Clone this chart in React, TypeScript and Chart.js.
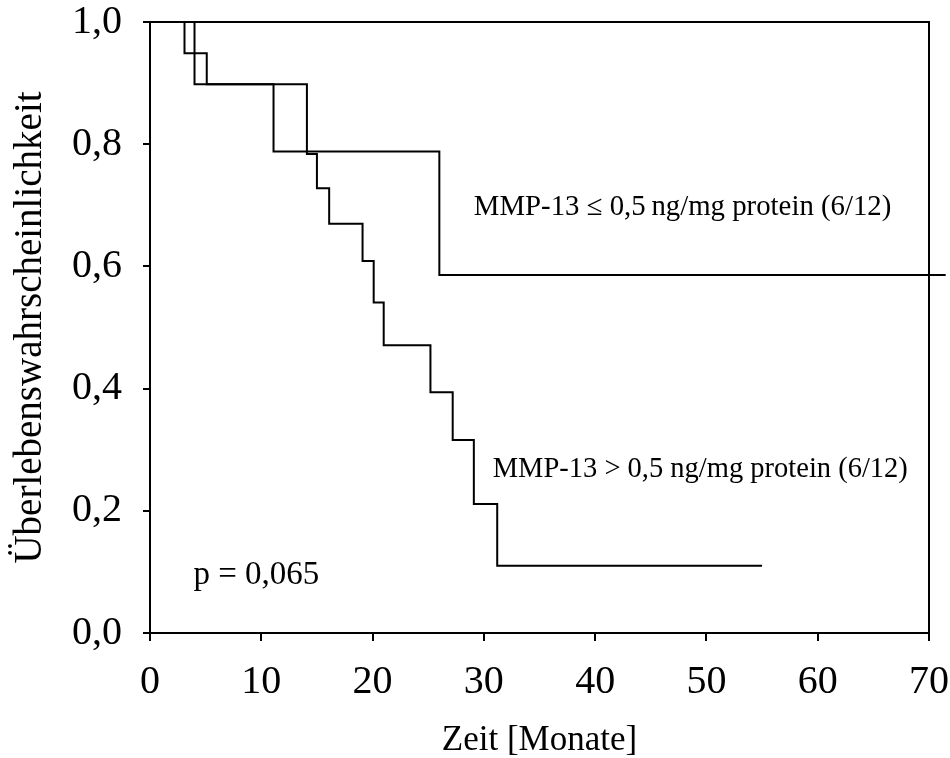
import React, { useEffect, useRef } from 'react';
import { Chart, registerables } from 'chart.js';

Chart.register(...registerables);

// Kaplan–Meier curves (time in months, survival probability)
const lowTimes = [0, 3.1, 5.1, 11.1, 26, 71.5];
const lowSurvival = [1, 0.949, 0.898, 0.788, 0.586, 0.586];

const highTimes = [0, 4, 14.1, 15, 16.1, 19.1, 20.1, 21, 25.2, 27.2, 29.1, 31.2, 55];
const highSurvival = [1, 0.898, 0.784, 0.728, 0.67, 0.609, 0.541, 0.471, 0.394, 0.316, 0.211, 0.11, 0.11];

const xTicks = [0, 10, 20, 30, 40, 50, 60, 70];
const yTicks = [0, 0.2, 0.4, 0.6, 0.8, 1.0];

const annotationTexts = [
  'MMP-13 \u2264 0,5\u2009ng/mg protein (6/12)',
  'MMP-13 > 0,5 ng/mg protein (6/12)',
  'p = 0,065',
];
const annotationX = [29.1, 30.8, 3.9];
const annotationY = [0.696, 0.267, 0.095];
const annotationSize = [28.8, 28.5, 33];

const FONT = '"Liberation Serif", "Times New Roman", serif';

export default function App() {
  const ref = useRef<HTMLCanvasElement | null>(null);

  useEffect(() => {
    if (!ref.current) return;

    const framePlugin = {
      id: 'frame',
      beforeDatasetsDraw(chart: any) {
        const { ctx, chartArea } = chart;
        ctx.save();
        ctx.strokeStyle = '#000';
        ctx.lineWidth = 2;
        ctx.strokeRect(chartArea.left, chartArea.top, chartArea.right - chartArea.left, chartArea.bottom - chartArea.top);
        ctx.restore();
      },
    };

    const textPlugin = {
      id: 'texts',
      afterDatasetsDraw(chart: any) {
        const { ctx } = chart;
        const xs = chart.scales.x;
        const ys = chart.scales.y;
        ctx.save();
        ctx.fillStyle = '#000';
        ctx.textAlign = 'left';
        ctx.textBaseline = 'middle';
        annotationTexts.forEach((t, i) => {
          ctx.font = `${annotationSize[i]}px ${FONT}`;
          ctx.fillText(t, xs.getPixelForValue(annotationX[i]), ys.getPixelForValue(annotationY[i]));
        });
        ctx.restore();
      },
    };

    const chart = new Chart(ref.current, {
      type: 'line',
      data: {
        datasets: [
          {
            label: 'MMP-13 ≤ 0,5 ng/mg protein (6/12)',
            data: lowTimes.map((t, i) => ({ x: t, y: lowSurvival[i] })),
            stepped: true,
            borderColor: '#000',
            borderWidth: 2,
            pointRadius: 0,
            fill: false,
            clip: false as any,
          },
          {
            label: 'MMP-13 > 0,5 ng/mg protein (6/12)',
            data: highTimes.map((t, i) => ({ x: t, y: highSurvival[i] })),
            stepped: true,
            borderColor: '#000',
            borderWidth: 2,
            pointRadius: 0,
            fill: false,
          },
        ],
      },
      options: {
        animation: false,
        responsive: false,
        maintainAspectRatio: false,
        layout: { padding: { left: 0, top: 22, right: 21, bottom: 0 } },
        plugins: { legend: { display: false }, tooltip: { enabled: false } },
        scales: {
          x: {
            type: 'linear',
            min: 0,
            max: 70,
            afterFit(scale: any) {
              scale.height = 125;
              scale.paddingLeft = 0;
              scale.paddingRight = 0;
            },
            afterBuildTicks(scale: any) { scale.ticks = xTicks.map((v) => ({ value: v })); },
            border: { display: true, color: '#000', width: 2 },
            grid: { drawOnChartArea: false, drawTicks: true, tickLength: 8, color: '#000', lineWidth: 2 },
            ticks: {
              color: '#000',
              padding: 17,
              maxRotation: 0,
              font: { family: FONT, size: 40 },
              callback: (v: any) => String(v),
            },
            title: {
              display: true,
              text: 'Zeit [Monate]',
              color: '#000',
              font: { family: FONT, size: 35, lineHeight: 1 },
              padding: { top: 0, bottom: 0 },
            },
          },
          y: {
            type: 'linear',
            min: 0,
            max: 1,
            afterFit(scale: any) {
              scale.width = 150;
              scale.paddingTop = 0;
              scale.paddingBottom = 0;
            },
            afterBuildTicks(scale: any) { scale.ticks = yTicks.map((v) => ({ value: v })); },
            border: { display: true, color: '#000', width: 2 },
            grid: { drawOnChartArea: false, drawTicks: true, tickLength: 7, color: '#000', lineWidth: 2 },
            ticks: {
              color: '#000',
              padding: 21,
              font: { family: FONT, size: 40 },
              callback: (v: any) => Number(v).toFixed(1).replace('.', ','),
            },
            title: {
              display: true,
              text: 'Überlebenswahrscheinlichkeit',
              color: '#000',
              font: { family: FONT, size: 39 },
              padding: { top: 7, bottom: 0 },
            },
          },
        },
      },
      plugins: [framePlugin, textPlugin],
    });

    return () => chart.destroy();
  }, []);

  return (
    <div style={{ position: 'fixed', left: 0, top: 0, width: 950, height: 758, background: '#fff' }}>
      <canvas ref={ref} width={950} height={758} style={{ width: 950, height: 758 }} />
    </div>
  );
}
